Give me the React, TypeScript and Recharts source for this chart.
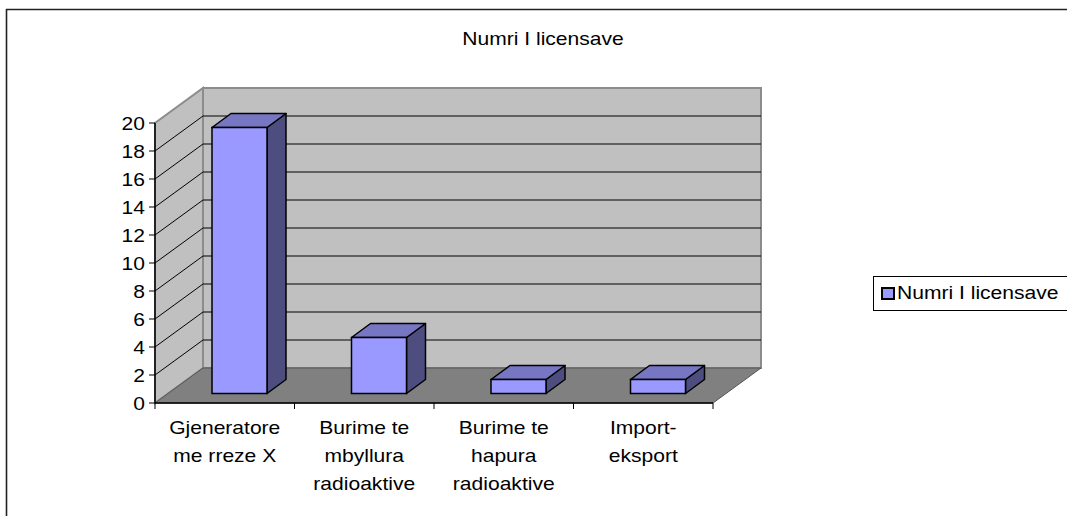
import { BarChart, Bar, XAxis, YAxis, CartesianGrid, Legend } from "recharts";

const categories = [
  "Gjeneratore\nme rreze X",
  "Burime te\nmbyllura\nradioaktive",
  "Burime te\nhapura\nradioaktive",
  "Import-\neksport",
];
const licenses = [19, 4, 1, 1];
const yTicks = [0, 2, 4, 6, 8, 10, 12, 14, 16, 18, 20];
const seriesName = "Numri I licensave";
const title = "Numri I licensave";

const data = categories.map((c, i) => ({ category: c, value: licenses[i] }));

// layout of the front plane of the 3d box
const W = 1067;
const H = 516;
const LEFT = 155;
const TOP = 123;
const RIGHT = 713;
const BOTTOM = 403;
// depth of the walls
const DX = 48;
const DY = -35;
// bar depth and where it sits inside the box
const BAR_DX = 19;
const BAR_DY = -14;
const BAR_SHIFT_X = 15;
const BAR_SHIFT_Y = -9.5;

const FONT = '"Liberation Sans", Arial, sans-serif';
const STRETCH = 1.17;

function GridLine(props: any) {
  const { x1, y1, x2 } = props;
  if (Math.abs(y1 - BOTTOM) < 1 || Math.abs(y1 - TOP) < 1) return <g key={props.key} />;
  return (
    <g key={props.key}>
      <line x1={x1} y1={y1} x2={x1 + DX} y2={y1 + DY} stroke="#000" strokeWidth={1} />
      <line x1={x1 + DX} y1={y1 + DY} x2={x2 + DX} y2={y1 + DY} stroke="#000" strokeWidth={1} />
    </g>
  );
}

function Box3D(props: any) {
  const { x, y, width, height } = props;
  if (height == null || height <= 0) return null;
  const fx = x + BAR_SHIFT_X;
  const fy = y + BAR_SHIFT_Y;
  const w = width;
  const h = height;
  const top = `${fx},${fy} ${fx + w},${fy} ${fx + w + BAR_DX},${fy + BAR_DY} ${fx + BAR_DX},${fy + BAR_DY}`;
  const side = `${fx + w},${fy} ${fx + w + BAR_DX},${fy + BAR_DY} ${fx + w + BAR_DX},${fy + h + BAR_DY} ${fx + w},${fy + h}`;
  return (
    <g>
      <polygon points={side} fill="#4d4d80" stroke="#000" strokeWidth={1.5} strokeLinejoin="round" />
      <polygon points={top} fill="#7676c3" stroke="#000" strokeWidth={1.5} strokeLinejoin="round" />
      <rect x={fx} y={fy} width={w} height={h} fill="#9999ff" stroke="#000" strokeWidth={1.5} />
    </g>
  );
}

function YTick(props: any) {
  const { x, y, payload } = props;
  return (
    <text
      x={0}
      y={0}
      transform={`translate(${x},${y + 7}) scale(${STRETCH},1)`}
      textAnchor="end"
      fontSize={18}
      fontFamily={FONT}
      fill="#000"
    >
      {payload.value}
    </text>
  );
}

function XTick(props: any) {
  const { x, y, payload, index } = props;
  const band = (RIGHT - LEFT) / categories.length;
  const lines = String(payload.value).split("\n");
  return (
    <g>
      <line x1={x - band / 2} y1={y} x2={x - band / 2} y2={y + 6} stroke="#000" />
      {index === categories.length - 1 && (
        <line x1={x + band / 2} y1={y} x2={x + band / 2} y2={y + 6} stroke="#000" />
      )}
      <text
        x={0}
        y={0}
        transform={`translate(${x},${y + 31}) scale(${STRETCH},1)`}
        textAnchor="middle"
        fontSize={18}
        fontFamily={FONT}
        fill="#000"
      >
        {lines.map((l, i) => (
          <tspan key={i} x={0} dy={i === 0 ? 0 : 28}>
            {l}
          </tspan>
        ))}
      </text>
    </g>
  );
}

function LegendBox(props: any) {
  const item = props.payload && props.payload[0];
  return (
    <div
      style={{
        boxSizing: "border-box",
        width: 200,
        height: 35,
        border: "1px solid #000",
        borderRight: "none",
        background: "#fff",
        display: "flex",
        alignItems: "center",
      }}
    >
      <span
        style={{
          display: "inline-block",
          boxSizing: "border-box",
          width: 14,
          height: 13,
          marginLeft: 7,
          background: "#9999ff",
          border: "2px solid #000",
        }}
      />
      <span
        style={{
          display: "inline-block",
          marginLeft: 2,
          fontSize: 18,
          fontFamily: FONT,
          color: "#000",
          whiteSpace: "nowrap",
          transform: `scaleX(${STRETCH})`,
          transformOrigin: "left center",
        }}
      >
        {item ? item.value : seriesName}
      </span>
    </div>
  );
}

export default function App() {
  const backWall = `${LEFT + DX},${TOP + DY} ${RIGHT + DX},${TOP + DY} ${RIGHT + DX},${BOTTOM + DY} ${LEFT + DX},${BOTTOM + DY}`;
  const sideWall = `${LEFT},${BOTTOM} ${LEFT},${TOP} ${LEFT + DX},${TOP + DY} ${LEFT + DX},${BOTTOM + DY}`;
  const floor = `${LEFT},${BOTTOM} ${RIGHT},${BOTTOM} ${RIGHT + DX},${BOTTOM + DY} ${LEFT + DX},${BOTTOM + DY}`;

  return (
    <div
      style={{
        position: "absolute",
        left: 0,
        top: 0,
        width: W,
        height: H,
        overflow: "hidden",
        background: "#fff",
        fontFamily: FONT,
      }}
    >
      <svg width={W} height={H} style={{ position: "absolute", left: 0, top: 0 }}>
        <line x1={6} y1={9.5} x2={W} y2={9.5} stroke="#222" strokeWidth={1.6} />
        <line x1={6.5} y1={9} x2={6.5} y2={H} stroke="#222" strokeWidth={1.6} />
        <text
          x={0}
          y={0}
          transform={`translate(543,45) scale(${STRETCH},1)`}
          textAnchor="middle"
          fontSize={18}
          fontFamily={FONT}
          fill="#000"
        >
          {title}
        </text>
        <polygon points={backWall} fill="#c0c0c0" stroke="#8c8c8c" strokeWidth={2} />
        <polygon points={sideWall} fill="#c0c0c0" stroke="#8c8c8c" strokeWidth={2} />
        <polygon points={floor} fill="#808080" stroke="#555" strokeWidth={1} />
      </svg>
      <div style={{ position: "absolute", left: 0, top: 0 }}>
        <BarChart
          width={W}
          height={H}
          data={data}
          margin={{ top: TOP, right: W - RIGHT, bottom: 13, left: 0 }}
          barSize={55}
        >
          <CartesianGrid vertical={false} horizontal={(p: any) => <GridLine {...p} />} />
          <XAxis
            dataKey="category"
            height={H - BOTTOM - 13}
            axisLine={{ stroke: "#000", strokeWidth: 1.5 }}
            tickLine={false}
            tickSize={0}
            tickMargin={0}
            interval={0}
            tick={<XTick />}
          />
          <YAxis
            width={LEFT}
            domain={[0, 20]}
            ticks={yTicks}
            interval={0}
            axisLine={{ stroke: "#000", strokeWidth: 1.5 }}
            tickLine={{ stroke: "#000" }}
            tickSize={6}
            tickMargin={4}
            tick={<YTick />}
          />
          <Legend
            layout="horizontal"
            verticalAlign="middle"
            align="center"
            wrapperStyle={{ left: 873, top: 276, width: 200, height: 35 }}
            content={<LegendBox />}
          />
          <Bar
            dataKey="value"
            name={seriesName}
            fill="#9999ff"
            shape={<Box3D />}
            isAnimationActive={false}
          />
        </BarChart>
      </div>
    </div>
  );
}
